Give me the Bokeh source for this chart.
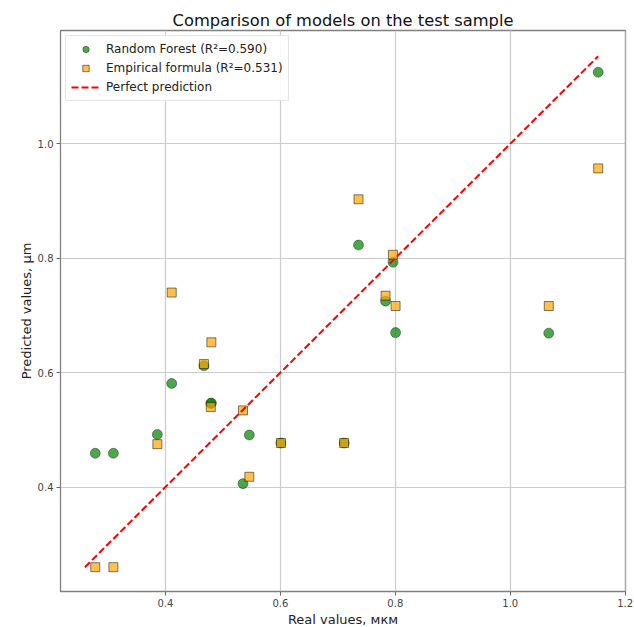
from bokeh.plotting import figure
from bokeh.models import Range1d, FixedTicker, PrintfTickFormatter, ColumnDataSource, Legend, LegendItem
from bokeh.embed import file_html
from bokeh.resources import INLINE

# Data
y_true = [0.278, 0.3095, 0.386, 0.411, 0.467, 0.479, 0.480, 0.535, 0.546, 0.601,
          0.711, 0.736, 0.783, 0.796, 0.8005, 1.067, 1.153]
rf_pred = [0.459, 0.459, 0.492, 0.581, 0.612, 0.546, 0.547, 0.406, 0.491, 0.477,
           0.477, 0.823, 0.725, 0.793, 0.670, 0.669, 1.125]
emp_pred = [0.260, 0.260, 0.475, 0.740, 0.615, 0.540, 0.653, 0.534, 0.418, 0.477,
            0.477, 0.903, 0.7345, 0.806, 0.7165, 0.7165, 0.957]
x_ticks = [0.4, 0.6, 0.8, 1.0, 1.2]
y_ticks = [0.4, 0.6, 0.8, 1.0]
x_limits = (0.2175, 1.2005)
y_limits = (0.2175, 1.198)
title_text = "Comparison of models on the test sample"
x_label = "Real values, мкм"
y_label = "Predicted values, µm"
rf_label = "Random Forest (R²=0.590)"
emp_label = "Empirical formula (R²=0.531)"
line_label = "Perfect prediction"

FONT = "DejaVu Sans"

lo = min(min(y_true), min(rf_pred), min(emp_pred))
hi = max(max(y_true), max(rf_pred), max(emp_pred))

p = figure(frame_width=565, frame_height=561,
           x_range=Range1d(*x_limits), y_range=Range1d(*y_limits),
           output_backend="svg", toolbar_location=None,
           min_border_left=60, min_border_right=9, min_border_top=30, min_border_bottom=35,
           background_fill_color="white", border_fill_color="white")

p.title.text = title_text
p.title.align = "center"
p.title.text_font = FONT
p.title.text_font_size = "16.3px"
p.title.text_font_style = "normal"
p.title.text_color = "#111111"
p.title.standoff = 2

p.outline_line_color = "#808080"
p.outline_line_width = 1.3

for ax in (p.xaxis[0], p.yaxis[0]):
    ax.axis_line_color = None
    ax.major_tick_line_color = "#666666"
    ax.major_tick_out = 4
    ax.major_tick_in = 0
    ax.minor_tick_line_color = None
    ax.major_label_text_font = FONT
    ax.major_label_text_font_size = "10px"
    ax.major_label_text_color = "#444444"
    ax.axis_label_text_font = FONT
    ax.axis_label_text_font_size = "13px"
    ax.axis_label_text_font_style = "normal"
    ax.axis_label_text_color = "#222222"
    ax.formatter = PrintfTickFormatter(format="%.1f")
    ax.major_label_standoff = 3
    ax.axis_label_standoff = 2

p.xaxis[0].ticker = FixedTicker(ticks=x_ticks)
p.yaxis[0].ticker = FixedTicker(ticks=y_ticks)
p.xaxis[0].axis_label = x_label
p.yaxis[0].axis_label = y_label
p.yaxis[0].axis_label_standoff = 1

p.xgrid[0].ticker = FixedTicker(ticks=x_ticks)
p.ygrid[0].ticker = FixedTicker(ticks=y_ticks)
for g in (p.xgrid[0], p.ygrid[0]):
    g.grid_line_color = "#cccccc"
    g.grid_line_width = 1.2

src = ColumnDataSource(dict(x=y_true, rf=rf_pred, emp=emp_pred))

r_rf = p.scatter("x", "rf", source=src, marker="circle", size=10,
                 fill_color="green", fill_alpha=0.7,
                 line_color="black", line_alpha=0.45, line_width=0.8)
r_emp = p.scatter("x", "emp", source=src, marker="square", size=9,
                  fill_color="orange", fill_alpha=0.7,
                  line_color="black", line_alpha=0.55, line_width=0.9)
r_line = p.line([lo, hi], [lo, hi], line_color="red", line_width=2, line_dash="7 3")

legend = Legend(items=[LegendItem(label=rf_label, renderers=[r_rf]),
                       LegendItem(label=emp_label, renderers=[r_emp]),
                       LegendItem(label=line_label, renderers=[r_line])],
                location="top_left")
legend.label_text_font = FONT
legend.label_text_font_size = "12px"
legend.label_text_color = "#222222"
legend.glyph_height = 16
legend.glyph_width = 29
legend.label_standoff = 6
legend.label_height = 16
legend.spacing = 3
legend.padding = 5
legend.margin = 5
legend.border_line_color = "#cccccc"
legend.border_line_width = 1
legend.background_fill_alpha = 0.85
p.add_layout(legend)

open("out.html", "w").write(file_html(p, INLINE))
